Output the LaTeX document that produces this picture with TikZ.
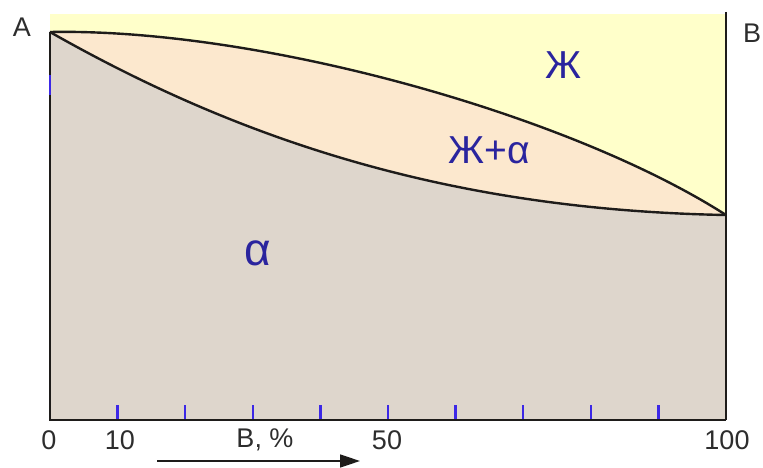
\documentclass[tikz,border=0pt]{standalone}
\usepackage{fontspec}
\setmainfont{Liberation Sans}
\usetikzlibrary{arrows.meta}
\definecolor{liqyellow}{RGB}{255,255,202}
\definecolor{twopeach}{RGB}{252,232,206}
\definecolor{solidgray}{RGB}{222,214,204}
\definecolor{labelblue}{RGB}{42,36,158}
\definecolor{tickblue}{RGB}{60,40,230}
\definecolor{axisdark}{RGB}{30,28,26}
\definecolor{textgray}{RGB}{45,45,45}
\tikzset{
  axisline/.style={draw=axisdark, line width=2.4pt},
  curveline/.style={draw=axisdark, line width=2.4pt},
  tickmark/.style={draw=tickblue, line width=2.4pt},
  axlabel/.style={text=textgray, font=\fontsize{27}{30}\selectfont, inner sep=0pt},
  phaselabel/.style={text=labelblue, font=\fontsize{39}{44}\selectfont, inner sep=0pt},
}
\begin{document}
\begin{tikzpicture}[x=1pt,y=-1pt]
\useasboundingbox (0,0) rectangle (763,468);
\coordinate (A) at (50,32);
\coordinate (Bm) at (726,215);
\coordinate (O) at (50,420);
\coordinate (E) at (726,420);
\coordinate (Btop) at (726,12);
% regions
\fill[liqyellow] (50,14) rectangle (726,215);
\fill[twopeach] (A) .. controls (260,28) and (570,115) .. (Bm)
   .. controls (450,210) and (240,140) .. (A) -- cycle;
\fill[solidgray] (A) .. controls (240,140) and (450,210) .. (Bm) -- (E) -- (O) -- cycle;
% curves
\draw[curveline] (A) .. controls (260,28) and (570,115) .. (Bm);
\draw[curveline] (A) .. controls (240,140) and (450,210) .. (Bm);
% axes
\draw[axisline] (A) -- (O) -- (E);
\draw[axisline] (Btop) -- (E);
% ticks
\foreach \k in {1,...,9} {
  \draw[tickmark] ({50+67.6*\k},405) -- ({50+67.6*\k},419);
}
\draw[tickmark] (50,75) -- (50,95);
% labels
\node[axlabel] (lA) at (22,27) {A};
\node[axlabel] (lB) at (752,33) {B};
\node[axlabel] (l0) at (49,440) {0};
\node[axlabel] (l10) at (120,440) {10};
\node[axlabel] (lBp) at (265,440) {В, \%};
\node[axlabel] (l50) at (387,440) {50};
\node[axlabel] (l100) at (727,440) {100};
\coordinate (arS) at (157,461);
\coordinate (arE) at (360,461);
\draw[draw=axisdark, line width=1.6pt, -{Triangle[length=20pt,width=13pt]}] (arS) -- (arE);
% phase labels
\node[phaselabel] (liq) at (563,65) {Ж};
\node[phaselabel] (two) at (489,150) {Ж+α};
\node[phaselabel, font=\fontsize{46}{50}\selectfont] (sol) at (258,253) {α};
\end{tikzpicture}
\end{document}
